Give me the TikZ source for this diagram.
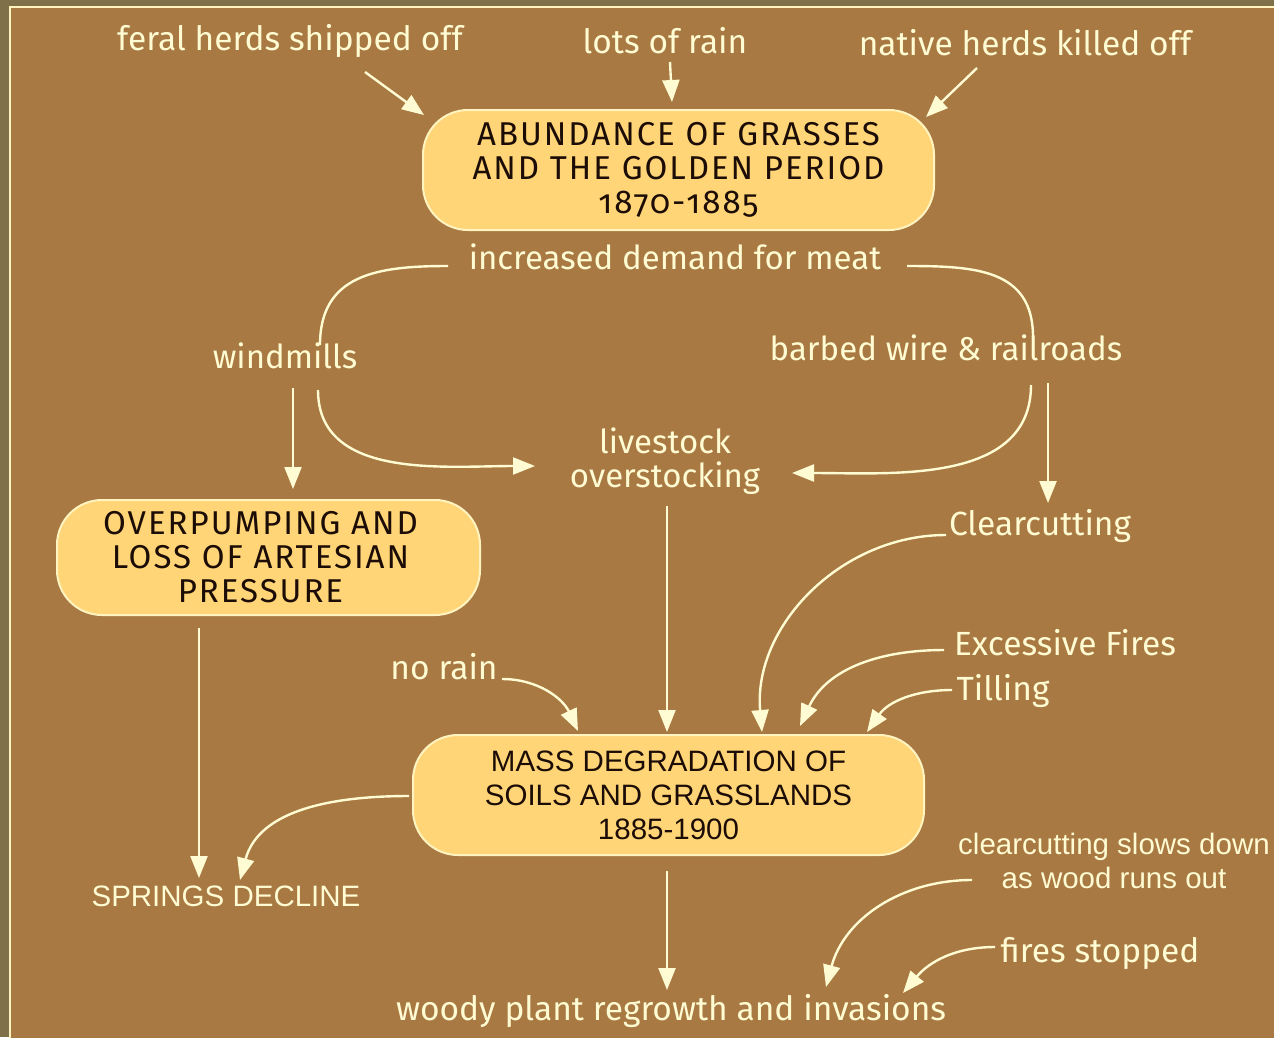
\documentclass[tikz,border=0pt]{standalone}
\usepackage{fontspec}
\setmainfont{Fira Sans}
\newfontfamily\hum{Fira Sans}[Numbers=OldStyle]
\newfontfamily\humcaps{Fira Sans}[Numbers=OldStyle,LetterSpace=6]
\newfontfamily\helv{Liberation Sans}
\usetikzlibrary{arrows.meta}
\definecolor{bg}{HTML}{A87942}
\definecolor{olive}{HTML}{7F704A}
\definecolor{cream}{HTML}{FFFBD2}
\definecolor{boxfill}{HTML}{FFD577}
\definecolor{boxline}{HTML}{FFF3C0}
\definecolor{ink}{HTML}{1C0C06}
\tikzset{
  lbl/.style={text=cream, inner sep=0pt, anchor=base, font=\hum\fontsize{33.5}{34}\selectfont},
  lblc/.style={text=cream, inner sep=0pt, anchor=base, font=\hum\fontsize{33}{34}\selectfont},
  lblm/.style={text=cream, inner sep=0pt, align=center, font=\hum\fontsize{33}{34}\selectfont},
  lblh/.style={text=cream, inner sep=0pt, anchor=base, font=\helv\fontsize{29.5}{34}\selectfont},
  stage/.style={draw=boxline, line width=2pt, fill=boxfill, rounded corners=45pt,
    text=ink, align=center, inner sep=0pt},
  arr/.style={draw=cream, line width=2.4pt, -{Triangle[length=22pt,width=17pt]}},
  link/.style={draw=cream, line width=2.4pt},
}
\begin{document}
\begin{tikzpicture}[x=1pt,y=-1pt]
\useasboundingbox (0,0) rectangle (1274,1037);
\fill[olive] (0,0) rectangle (1274,1037);
\draw[boxline, line width=2pt, fill=bg] (10,7) rectangle (1290,1050);

% top inputs
\node[lbl] (feral) at (290,50) {feral herds shipped off};
\node[lbl] (rain) at (665,53) {lots of rain};
\node[lbl] (native) at (1025,55) {native herds killed off};

\node[stage, minimum width=511pt, minimum height=120pt,
  font=\humcaps\fontsize{33}{34}\selectfont] (golden) at (678.5,170)
  {ABUNDANCE OF GRASSES\\AND THE GOLDEN PERIOD\\1870-1885};

\node[lblc] (demand) at (675,269) {increased demand for meat};
\node[lblc] (wind) at (285,368) {windmills};
\node[lblc] (barbed) at (946,360) {barbed wire \& railroads};
\node[lblm] (stock) at (665,461) {livestock\\overstocking};

\node[stage, minimum width=423pt, minimum height=115pt,
  font=\humcaps\fontsize{33}{34}\selectfont] (pump) at (268.5,557.5)
  {\hspace*{-16pt}OVERPUMPING AND\\\hspace*{-16pt}LOSS OF ARTESIAN\\\hspace*{-16pt}PRESSURE};

\node[lbl] (clear) at (1040,535) {Clearcutting};
\node[lbl] (fires) at (1065,655) {Excessive Fires};
\node[lbl] (till) at (1003,700) {Tilling};
\node[lbl] (norain) at (444,679) {no rain};

\node[stage, minimum width=511pt, minimum height=120pt,
  font=\helv\fontsize{29.5}{34}\selectfont] (mass) at (668.5,795)
  {MASS DEGRADATION OF\\SOILS AND GRASSLANDS\\1885-1900};

\node[lblh] (springs) at (226,906) {SPRINGS DECLINE};
\node[text=cream, inner sep=0pt, align=center, font=\helv\fontsize{29.5}{34}\selectfont]
  (cslow) at (1114,861) {clearcutting slows down\\as wood runs out};
\node[lbl] (fstop) at (1100,962) {fires stopped};
\node[lbl] (woody) at (671,1020) {woody plant regrowth and invasions};

% connectors
\draw[arr] ([xshift=75pt,yshift=-22pt]feral.base) -- ([xshift=2pt,yshift=-6pt]golden.north west);
\draw[arr] ([xshift=5pt,yshift=-9pt]rain.base) -- ([xshift=-6.5pt,yshift=7pt]golden.north);
\draw[arr] ([xshift=-48pt,yshift=-13pt]native.base) -- ([xshift=-9pt,yshift=-8pt]golden.north east);

\draw[link] ([xshift=-227pt,yshift=3pt]demand.base) to[out=180,in=90,looseness=1.2] ([xshift=35pt,yshift=23pt]wind.base);
\draw[link] ([xshift=232pt,yshift=3pt]demand.base) to[out=0,in=90,looseness=1.2] ([xshift=87pt,yshift=23pt]barbed.base);

\draw[arr] ([xshift=8pt,yshift=-20pt]wind.base) -- ([xshift=24.5pt,yshift=10pt]pump.north);
\draw[arr] ([xshift=33pt,yshift=-22pt]wind.base) to[out=-90,in=180] ([xshift=-130pt,yshift=-5pt]stock.center);
\draw[arr] ([xshift=85pt,yshift=-25pt]barbed.base) to[out=-90,in=0] ([xshift=127pt,yshift=-12pt]stock.center);
\draw[arr] ([xshift=102pt,yshift=-23pt]barbed.base) -- ([xshift=8pt,yshift=32pt]clear.base);

\draw[arr] ([xshift=2pt,yshift=-45pt]stock.center) -- ([xshift=-1.5pt,yshift=2pt]mass.north);
\draw[arr] ([xshift=-69.5pt,yshift=-12pt]pump.south) -- ([xshift=-27pt,yshift=28pt]springs.base);
\draw[arr] ([xshift=-3pt,yshift=-1pt]mass.west) to[out=180,in=75] ([xshift=14pt,yshift=26pt]springs.base);

\draw[arr] ([xshift=58pt]norain.base) to[out=0,in=115] ([xshift=-90.5pt,yshift=3pt]mass.north);
\draw[arr] ([xshift=-94pt]clear.base) to[out=180,in=95] ([xshift=93.5pt,yshift=2pt]mass.north);
\draw[arr] ([xshift=-121pt,yshift=5pt]fires.base) to[out=180,in=65] ([xshift=131.5pt,yshift=8pt]mass.north);
\draw[arr] ([xshift=-51pt,yshift=10pt]till.base) to[out=180,in=55] ([xshift=198.5pt,yshift=2pt]mass.north);

\draw[arr] ([xshift=-1.5pt,yshift=-15pt]mass.south) -- ([xshift=-4pt,yshift=30pt]woody.base);
\draw[arr] ([xshift=-142pt,yshift=-19pt]cslow.center) to[out=180,in=75] ([xshift=155pt,yshift=33pt]woody.base);
\draw[arr] ([xshift=-105pt,yshift=15pt]fstop.base) to[out=180,in=50] ([xshift=232pt,yshift=27pt]woody.base);
\end{tikzpicture}
\end{document}
